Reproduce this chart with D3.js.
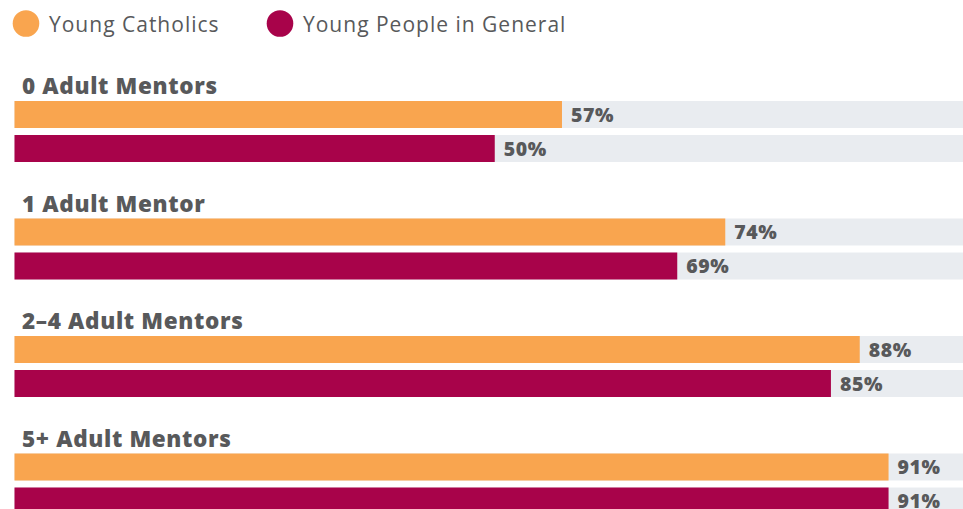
<!DOCTYPE html>
<html>
<head>
<meta charset="utf-8">
<script src="https://cdn.jsdelivr.net/npm/d3@7"></script>
<style>
  body { margin: 0; background: #fff; }
  svg { display: block; font-family: "Open Sans", Lato, sans-serif; }
  .title { font-weight: 800; font-size: 22.5px; letter-spacing: 0.65px; fill: #58595b; }
  .label { font-weight: 800; font-size: 19.5px; letter-spacing: 0.6px; fill: #58595b; }
  .legend text { font-size: 21px; letter-spacing: 1px; fill: #58595b; }
</style>
</head>
<body>
<script>
let w = 963, h = 509;

// Data
let categories = ["0 Adult Mentors", "1 Adult Mentor", "2\u20134 Adult Mentors", "5+ Adult Mentors"];
let seriesNames = ["Young Catholics", "Young People in General"];
let catholics = [57, 74, 88, 91];
let general = [50, 69, 85, 91];
let colors = ["#f9a54f", "#a8034a"];

let rows = categories.map((c, i) => ({cat: c, values: [catholics[i], general[i]]}));

// Scales
let xScale = d3.scaleLinear().domain([0, 100]).range([14.5, 975]);
let yGroup = d3.scaleBand().domain(categories).range([101, 571]);
let ySub = d3.scaleBand().domain(seriesNames).range([0, 61]).paddingInner(0.206);

let svg = d3.select("body").append("svg")
  .attr("width", w)
  .attr("height", h);

// Legend
let legend = svg.append("g").attr("class", "legend");
let legendX = [26, 280];
seriesNames.forEach((s, i) => {
  legend.append("circle")
    .attr("cx", legendX[i])
    .attr("cy", 23.5)
    .attr("r", 13.3)
    .attr("fill", colors[i]);
  legend.append("text")
    .attr("x", legendX[i] + 23)
    .attr("y", 32)
    .text(s);
});

// Groups
let groups = svg.selectAll(".group")
  .data(rows)
  .enter()
  .append("g")
  .attr("class", "group")
  .attr("transform", d => "translate(0," + yGroup(d.cat) + ")");

groups.append("text")
  .attr("class", "title")
  .attr("x", 22)
  .attr("y", -7)
  .text(d => d.cat);

let bars = groups.selectAll(".bar")
  .data(d => d.values.map((v, i) => ({series: seriesNames[i], value: v, i: i})))
  .enter()
  .append("g");

// background track
bars.append("rect")
  .attr("x", xScale(0))
  .attr("y", d => ySub(d.series))
  .attr("width", xScale(100) - xScale(0))
  .attr("height", ySub.bandwidth())
  .attr("fill", "#e9ecf0");

bars.append("rect")
  .attr("x", xScale(0))
  .attr("y", d => ySub(d.series))
  .attr("width", d => xScale(d.value) - xScale(0))
  .attr("height", ySub.bandwidth())
  .attr("fill", d => colors[d.i]);

bars.append("text")
  .attr("class", "label")
  .attr("x", d => xScale(d.value) + 9)
  .attr("y", d => ySub(d.series) + ySub.bandwidth() / 2)
  .attr("dy", "0.36em")
  .text(d => d.value + "%");
</script>
</body>
</html>
